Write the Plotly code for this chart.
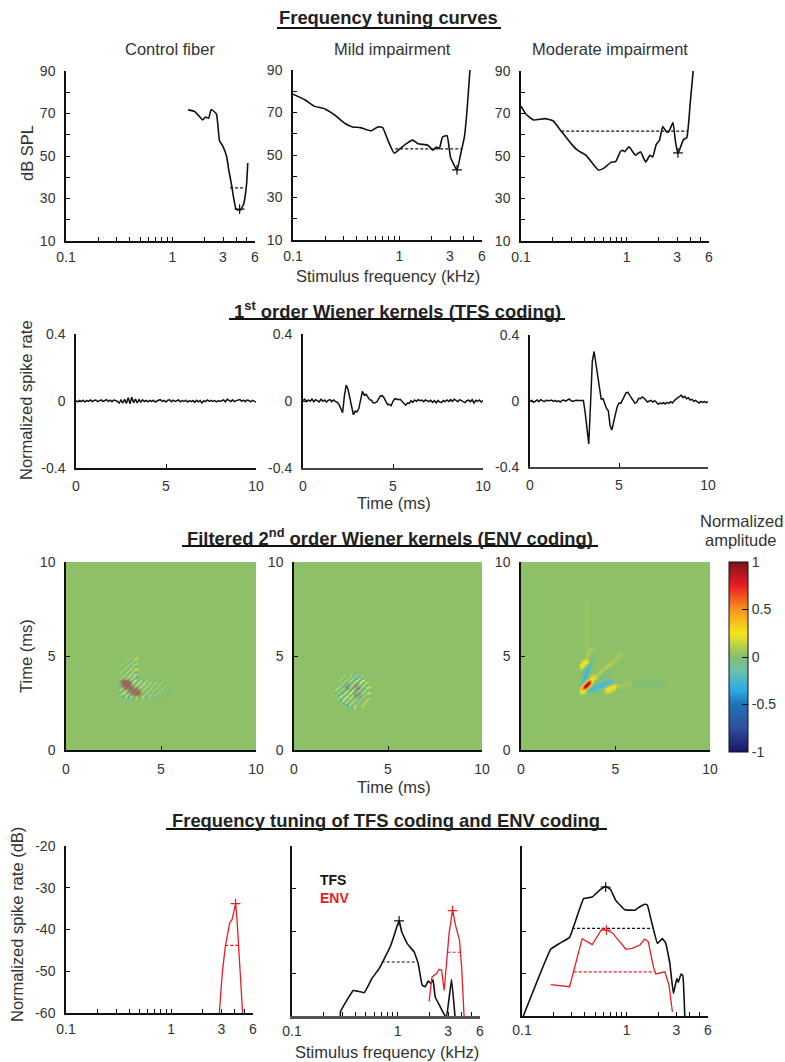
import numpy as np
import plotly.graph_objects as go

W, H = 785, 1062
FONT = "Liberation Sans"
INK = "#111111"
TXT = "#333333"
RED = "#ED1C24"
LABEL = 16.5
TITLE = 18.4
TICK = 14

# ---------- Frequency tuning curves ----------
ftc1_f = [1.41,1.63,1.77,1.93,2.05,2.2,2.32,2.6,2.78,2.97,3.23,3.41,3.6,3.98,4.35,4.69,5.0,5.13]
ftc1_db = [71.7,70.9,69,67,68.3,67.8,71.9,69.8,57.2,54.9,50.2,43,36.8,25,24.5,27.3,36.8,46.7]
ftc1_q_f, ftc1_q_db = [3.5,4.75], [35,35]
ftc1_cf = ([4.3],[25])

ftc2_f = [0.1,0.129,0.158,0.2,0.249,0.309,0.364,0.429,0.544,0.627,0.698,0.78,0.897,1.02,1.14,1.34,1.5,1.86,2.07,2.23,2.38,2.55,2.81,3.03,3.2,3.49,3.76,4.1,4.29,4.48,4.62]
ftc2_db = [78.6,76,73,71.7,68.7,64.8,63.2,62.9,61.4,63.2,62.9,57,50.9,53,55,57,55.3,54.6,52.3,53.8,53,58.5,59.2,49,46.3,42.8,49.9,58.5,68,80.5,90]
ftc2_q_f, ftc2_q_db = [0.916,3.85], [52.9,52.9]
ftc2_cf = ([3.49],[43])

ftc3_f = [0.1,0.111,0.131,0.168,0.201,0.24,0.299,0.345,0.413,0.542,0.613,0.708,0.789,0.866,0.91,0.957,1.05,1.21,1.35,1.51,1.66,1.76,1.9,2.04,2.19,2.36,2.49,2.74,2.88,3.05,3.44,3.7,3.98,4.25]
ftc3_db = [73.4,69.8,67,67.6,66.6,61.7,55.7,52.6,50.3,43.3,44.4,47,47.5,51.9,52.7,52,54.3,50.4,52,47.2,50.3,49.5,55.4,57.3,63.9,61.5,61.3,65.8,57.3,51.1,57.7,58.6,74.5,90]
ftc3_q_f, ftc3_q_db = [0.24,3.79], [61.7,61.7]
ftc3_cf = ([3.05],[51.5])

# ---------- 1st order Wiener kernels (0.1 ms steps) ----------
kern_t = [i/10 for i in range(101)]
kern1 = [.002,-.005,.004,-.003,.005,-.006,.003,-.002,.006,-.004,
 .003,.006,-.004,.002,.007,-.003,.004,.008,-.002,.005,
 -.004,.006,.003,-.002,-.012,.006,-.012,.01,-.014,.02,
 -.016,.022,-.01,.012,-.012,.008,-.006,.007,-.003,.004,
 -.005,.004,-.003,.005,-.006,.002,.006,.007,-.002,.004,
 -.006,.005,.007,-.004,.005,-.003,.003,.006,-.005,.002,
 -.003,.005,-.006,.002,-.004,.003,-.008,.004,-.005,.003,
 -.012,.002,-.004,.006,-.002,.004,-.003,.002,-.005,.003,
 -.002,.004,.006,-.005,.01,.004,-.003,.007,-.004,.002,
 .004,.009,-.002,.005,-.004,.006,.003,-.005,.004,-.003,-.006]
kern2 = [.004,.01,-.004,.006,-.002,.012,-.005,.008,.002,-.006,
 .01,-.002,.006,-.006,.004,.008,-.004,.006,-.002,-.008,
 -.02,-.045,-.07,.03,.095,.07,.02,-.04,-.082,-.06,
 -.065,-.045,.01,.058,.035,.04,.025,.008,.005,-.012,
 -.01,-.006,.012,.03,.032,.02,-.002,-.022,-.02,-.028,
 -.002,.014,.012,.008,.01,0,-.012,-.025,-.012,-.014,
 .002,-.008,.006,-.002,.008,.002,.006,-.004,.006,.002,
 -.004,.004,-.008,.002,-.012,.004,-.006,-.008,.003,-.004,
 .006,-.003,.008,-.002,.01,.004,-.004,.008,.003,-.006,
 -.01,.002,.005,-.004,.008,-.012,.004,-.002,.006,-.006,.003]
kern3 = [-.002,.003,-.008,.002,.006,-.004,.008,.002,-.004,.005,
 .004,.002,.006,-.002,.004,-.004,.001,-.006,.004,.006,
 -.001,.008,.012,.003,-.002,.002,.005,.003,.002,.004,
 .003,-.07,-.18,-.26,-.02,.24,.30,.22,.145,.07,
 .012,.014,-.02,-.045,-.06,-.15,-.175,-.12,-.08,-.035,
 -.012,-.014,.005,.03,.05,.052,.03,.018,.002,-.014,
 -.008,.016,.014,.024,.018,.002,-.006,0,.004,-.006,
 .002,-.008,-.02,-.012,-.016,-.01,-.018,-.008,-.014,-.004,
 -.012,.002,.014,.02,.026,.036,.02,.028,.014,.02,
 .006,.01,-.002,.004,-.006,-.012,-.002,-.008,-.004,-.01,-.004]

# ---------- Filtered 2nd order kernels: sparse features in ms ----------
wk_base = 0.02
w1_off = [-1.8,-1.65,-1.5,-1.35,-1.2,-1.05,-.9,-.75,-.6,-.45,-.3,-.15,0,.15,.3,.45,.6,.75,.9,1.05,1.2,1.35,1.5,1.65,1.8,1.95,2.1,2.25]
w1_mid = [4.15,4.1,4.0,3.95,3.9,3.8,3.75,3.65,3.6,3.5,3.45,3.4,3.35,3.35,3.4,3.45,3.5,3.55,3.65,3.75,3.8,3.9,3.95,4.0,4.05,4.1,4.15,4.2]
w1_half = [.2,.25,.3,.35,.4,.4,.42,.42,.42,.42,.42,.42,.42,.42,.42,.42,.42,.42,.42,.42,.4,.4,.35,.35,.3,.3,.25,.2]
w1_amp = [.05,-.06,.09,-.1,.13,-.15,.17,-.17,.2,-.2,.26,-.3,.32,-.32,.3,-.28,.24,-.18,.18,-.16,.16,-.14,.13,-.1,.09,-.06,.05,-.04]
w1_blob = [(3.05,3.62,3.25,3.42,.9),(3.45,3.2,3.75,3.05,.8)]
w2_off = [-1.2,-1.05,-.9,-.75,-.6,-.45,-.3,-.15,0,.15,.3,.45,.6,.75,.9,1.05,1.2]
w2_mid = [3.15]*17
w2_half = [.22,.3,.38,.45,.5,.55,.55,.55,.55,.55,.55,.55,.5,.45,.38,.3,.22]
w2_amp = [.09,-.12,.16,-.19,.24,-.32,.32,-.38,.38,-.38,.32,-.32,.24,-.19,.16,-.12,.09]
w2_blob = [(2.78,3.4,2.86,3.34,.4),(3.28,3.4,3.38,3.32,.45),(3.28,2.98,3.38,2.9,.4)]
w3_strokes = [
 (3.5,5.0,3.5,8.0,.05,1),(4.0,3.9,5.25,5.14,.07,1),(3.76,3.72,4.73,4.61,.11,1),
 (3.85,3.55,4.6,4.2,-.07,1),(5.0,3.5,7.5,3.55,-.05,1),(4.9,3.4,5.8,3.54,.08,1),
 (3.46,4.75,3.7,5.4,.09,1),(3.62,4.6,3.8,5.1,-.07,1),
 (3.58,3.19,4.73,3.63,-.24,2),(3.28,3.54,3.58,4.52,-.24,2),
 (3.2,4.45,3.44,4.72,.24,2),(4.55,3.22,4.9,3.4,.22,2),
 (3.2,3.12,3.85,3.9,.18,2),(3.25,3.22,3.72,3.74,.38,1),(3.36,3.34,3.6,3.58,.95,1),
]
colour_stops = [(-1,"#1B1464"),(-.75,"#2E4F9E"),(-.5,"#2072B8"),(-.35,"#29ABE2"),(-.15,"#6BC0B0"),
                (0,"#85BE6E"),(.25,"#F5E51B"),(.5,"#F7941D"),(.75,"#ED1C24"),(1,"#7A1416")]

# ---------- Frequency tuning of TFS / ENV ----------
t1_env_f = [2.87,3.06,3.27,3.45,3.6,3.8,3.93,4.1,4.24,4.48,4.78]
t1_env_v = [-60,-50.5,-44.1,-40.5,-38.5,-37.6,-35.7,-33.8,-38.1,-47.3,-60]
t1_env_q = ([3.27,4.33],[-43.8,-43.8])
t1_env_cf = ([4.1],[-33.8])

t2_tfs_f = [.287,.287,.38,.483,.569,.669,.849,.926,1.03,1.09,1.24,1.43,1.56,1.7,1.82,1.94,2.07,2.16,2.26,2.52,2.81,2.9,3.23,3.48]
t2_tfs_v = [-60,-59,-54,-54.5,-51.2,-48.8,-43.7,-41,-37.5,-40.2,-43.1,-44.9,-47.6,-52.7,-53.1,-51.8,-52.3,-51.5,-55.5,-57.8,-60,-60,-51.4,-60]
t2_tfs_q = ([.706,1.51],[-47.3,-47.3])
t2_tfs_cf = ([1.03],[-37.6])
t2_env_f = [1.98,2.11,2.33,2.46,2.6,2.75,2.93,3.06,3.3,3.52,3.84,4.02,4.24]
t2_env_v = [-56.6,-50.8,-50,-49,-49.2,-54,-46,-40.6,-35,-38.6,-42.2,-48.4,-60]
t2_env_q = ([2.97,3.88],[-45,-45])
t2_env_cf = ([3.3],[-35.2])

t3_tfs_f = [.103,.188,.229,.285,.388,.469,.553,.631,.705,.787,.962,1.2,1.34,1.49,1.58,1.72,1.97,2.2,2.37,2.59,2.8,3.02,3.12,3.31,3.45,3.6]
t3_tfs_v = [-60,-44.3,-42.9,-41.5,-32.4,-32,-30.4,-29.5,-30.3,-32.8,-35,-35.1,-34.3,-33.7,-33.9,-37.5,-42.9,-41.8,-42.9,-47.6,-54.7,-51.2,-52.1,-50.1,-50.5,-60]
t3_tfs_q = ([.301,1.76],[-39.4,-39.4])
t3_tfs_cf = ([.631],[-29.7])
t3_env_f = [.188,.285,.376,.469,.585,.728,.859,.982,1.13,1.34,1.49,1.61,1.8,1.9,2.32,2.54,2.74]
t3_env_v = [-52.6,-53.1,-41.8,-43.2,-39.4,-40.4,-42.5,-44.3,-44.1,-43.3,-41.9,-42.5,-48.4,-50.1,-49.6,-52.7,-59]
t3_env_q = ([.312,1.86],[-49.6,-49.6])
t3_env_cf = ([.64],[-39.8])

freq_ticks = [.1,.2,.3,.4,.5,.6,.7,.8,.9,1,2,3,4,5,6]
freq_labels = ["0.1","","","","","","","","","1","","3","","","6"]
spl_ticks = [10,20,30,40,50,60,70,80,90]
spl_labels = ["10","","30","","50","","70","","90"]
db_ticks = [-60,-50,-40,-30,-20]
db_labels = ["-60","-50","-40","-30","-20"]

# ---------- helpers ----------
fig = go.Figure()
layout = {}
n = [0]

def panel(px0, px1, py0, py1, xopt, yopt, line_w=1.5, xcol=INK, xstand=2):
    n[0] += 1
    i = n[0]
    common = dict(showline=True, linecolor=INK, linewidth=line_w, showgrid=False, zeroline=False,
                  ticks="inside", ticklen=4, tickcolor=INK, tickwidth=1.2, mirror=False,
                  tickfont=dict(family=FONT, size=TICK, color=TXT), ticklabelstandoff=6)
    layout[f"xaxis{i}"] = {**common, "domain":[px0/W, px1/W], "anchor":f"y{i}", **xopt}
    layout[f"xaxis{i}"]["linecolor"] = xcol
    layout[f"xaxis{i}"]["ticklabelstandoff"] = xstand
    layout[f"yaxis{i}"] = {**common, "domain":[1-py1/H, 1-py0/H], "anchor":f"x{i}", **yopt}
    return f"x{i}", f"y{i}"

def curve(ax, x, y, color=INK, width=1.6, dash=None, smooth=None):
    line = dict(color=color, width=width, dash=dash)
    if smooth:
        line.update(shape="spline", smoothing=smooth)
    fig.add_trace(go.Scatter(x=x, y=y, mode="lines", xaxis=ax[0], yaxis=ax[1],
                             line=line, showlegend=False, cliponaxis=False))

def cf(ax, pt, color=INK):
    fig.add_trace(go.Scatter(x=pt[0], y=pt[1], mode="markers", xaxis=ax[0], yaxis=ax[1], cliponaxis=False,
                             marker=dict(symbol="cross-thin", size=7, line=dict(color=color, width=1.2)), showlegend=False))

def text(x, y, s, size=LABEL, bold=False, color=TXT, angle=0, anchor="center"):
    fig.add_annotation(xref="paper", yref="paper", x=x/W, y=1-y/H, text=f"<b>{s}</b>" if bold else s,
                       showarrow=False, textangle=angle, xanchor=anchor, yanchor="middle",
                       font=dict(family=FONT, size=size, color=color))

def rule(x0, x1, y):
    fig.add_shape(type="line", xref="paper", yref="paper", x0=x0/W, x1=x1/W, y0=1-y/H, y1=1-y/H,
                  line=dict(color="#111111", width=2))

flog = dict(type="log", range=[-1, np.log10(6)], tickmode="array", tickvals=freq_ticks, ticktext=freq_labels)
fspl = dict(range=[10,90], tickmode="array", tickvals=spl_ticks, ticktext=spl_labels)
fdb = dict(range=[-60,-20], tickmode="array", tickvals=db_ticks, ticktext=db_labels)
fdb0 = dict(range=[-60,-20], tickmode="array", tickvals=db_ticks, ticktext=[""]*5)
fker = dict(range=[-.4,.4], tickmode="array", tickvals=[-.4,0,.4], ticktext=["-0.4","0","0.4"])
ftm = dict(range=[0,10], tickmode="array", tickvals=[0,5,10], ticktext=["0","5","10"])

# row 1
a = panel(66,255,71,241,flog,fspl)
curve(a,ftc1_f,ftc1_db,smooth=.4); curve(a,ftc1_q_f,ftc1_q_db,dash="3px,2px",width=1.2); cf(a,ftc1_cf)
a = panel(293,482,70,240,flog,fspl)
curve(a,ftc2_f,ftc2_db,smooth=.4); curve(a,ftc2_q_f,ftc2_q_db,dash="3px,2px",width=1.2); cf(a,ftc2_cf)
a = panel(521,709,71,241,flog,fspl)
curve(a,ftc3_f,ftc3_db,smooth=.4); curve(a,ftc3_q_f,ftc3_q_db,dash="3px,2px",width=1.2); cf(a,ftc3_cf)

# row 2
a = panel(76,256,334,468,ftm,fker,xstand=4); curve(a,kern_t,kern1,width=1.5)
a = panel(303,483,334,468,ftm,fker,line_w=2,xcol="#444444",xstand=4); curve(a,kern_t,kern2,width=1.5)
a = panel(530,708,335,467,ftm,fker,line_w=2,xcol="#444444",xstand=4); curve(a,kern_t,kern3,width=1.5)

# row 3
STEP = 0.05
grid = [i*STEP for i in range(201)]

def paint(z, x0, y0, x1, y1, v, hw):
    m = int(max(abs(x1-x0), abs(y1-y0))/STEP*2)+1
    for k in range(m+1):
        u = k/m
        ix = int(round((x0+(x1-x0)*u)/STEP)); iy = int(round((y0+(y1-y0)*u)/STEP))
        z[max(iy-hw,0):iy+hw+1, max(ix-hw,0):ix+hw+1] = v

def soften(z, passes=1):
    for _ in range(passes):
        p = np.pad(z, 1, mode="edge")
        z = sum(p[1+dy:p.shape[0]-1+dy, 1+dx:p.shape[1]-1+dx] for dy in (-1,0,1) for dx in (-1,0,1))/9
    return z

def fringes(off, mid, half, amp):
    z = np.full((201,201), wk_base)
    for d,s,h,v in zip(off,mid,half,amp):
        paint(z, s+d/2-h, s-d/2-h, s+d/2+h, s-d/2+h, v*1.25, 1)
    return soften(z)

def blobs(items, r=3):
    z = np.zeros((201,201))
    for x0,y0,x1,y1,v in items:
        paint(z,x0,y0,x1,y1,v,r)
    return soften(z,3)

def kernel_panel(px0, px1, z, overlay=None, over_rgb="150,85,85"):
    a = panel(px0,px1,562,750,ftm,ftm,xstand=5)
    fig.add_trace(go.Heatmap(x=grid,y=grid,z=z,coloraxis="coloraxis",zsmooth="best",xaxis=a[0],yaxis=a[1]))
    if overlay is not None:
        fig.add_trace(go.Heatmap(x=grid,y=grid,z=overlay,zmin=0,zmax=1,showscale=False,zsmooth="best",xaxis=a[0],yaxis=a[1],
                                 colorscale=[[0,f"rgba({over_rgb},0)"],[1,f"rgba({over_rgb},0.95)"]]))

kernel_panel(66,256,fringes(w1_off,w1_mid,w1_half,w1_amp),blobs(w1_blob))
kernel_panel(294,482,fringes(w2_off,w2_mid,w2_half,w2_amp),blobs(w2_blob,2),"110,95,110")
z3 = np.full((201,201), wk_base)
for s in w3_strokes:
    paint(z3,*s)
kernel_panel(521,710,soften(z3,2))

# row 4
a = panel(66,253,846,1013,flog,fdb)
curve(a,t1_env_f,t1_env_v,RED,1.3); curve(a,*t1_env_q,RED,1.2,"3px,2px"); cf(a,t1_env_cf,RED)
a = panel(292,480,846,1016,flog,fdb0,line_w=1.5,xcol="#555555",xstand=0)
layout[a[0].replace("x","xaxis")]["linewidth"] = 2.5
curve(a,t2_tfs_f,t2_tfs_v,smooth=.25); curve(a,*t2_tfs_q,INK,1.2,"3px,2px"); cf(a,t2_tfs_cf)
curve(a,t2_env_f,t2_env_v,RED,1.3); curve(a,*t2_env_q,RED,1.2,"3px,2px"); cf(a,t2_env_cf,RED)
a = panel(522,708,846,1016,flog,fdb0,xstand=0)
curve(a,t3_tfs_f,t3_tfs_v,smooth=.25); curve(a,*t3_tfs_q,INK,1.2,"3px,2px"); cf(a,t3_tfs_cf)
curve(a,t3_env_f,t3_env_v,RED,1.3); curve(a,*t3_env_q,RED,1.2,"3px,2px"); cf(a,t3_env_cf,RED)

# text
text(388,18,"Frequency tuning curves",TITLE,True,"#222222"); rule(277,501,28)
text(170,49,"Control fiber"); text(392,49,"Mild impairment"); text(610,49,"Moderate impairment")
text(27,153,"dB SPL",angle=-90)
text(388,276,"Stimulus frequency (kHz)")
text(397,310,"1<sup>st</sup> order Wiener kernels (TFS coding)",TITLE,True,"#222222"); rule(229,565,319)
text(26,400,"Normalized spike rate",angle=-90)
text(394,503,"Time (ms)")
text(390,537,"Filtered 2<sup>nd</sup> order Wiener kernels (ENV coding)",TITLE,True,"#222222"); rule(182,598,546)
text(741,521,"Normalized"); text(741,540,"amplitude")
text(26,656,"Time (ms)",angle=-90)
text(394,787,"Time (ms)")
text(386,820,"Frequency tuning of TFS coding and ENV coding",TITLE,True,"#222222"); rule(166,607,829)
text(17,925,"Normalized spike rate (dB)",angle=-90)
text(387,1052,"Stimulus frequency (kHz)")
text(318,880,"TFS",14,True,"#111111",anchor="left"); text(318,898,"ENV",14,True,RED,anchor="left")

fig.update_layout(**layout, width=W, height=H, margin=dict(l=0,r=0,t=0,b=0,pad=0,autoexpand=False), showlegend=False,
    paper_bgcolor="white", plot_bgcolor="white",
    coloraxis=dict(cmin=-1, cmax=1,
        colorscale=[[(v+1)/2,c] for v,c in colour_stops],
        colorbar=dict(x=729/W, xanchor="left", xpad=0, ypad=0, y=1-562/H, yanchor="top", lenmode="pixels", len=190,
                      thickness=19, outlinecolor=INK, outlinewidth=1, ticks="inside", ticklen=6, tickcolor=INK,
                      tickmode="array", tickvals=[-1,-.5,0,.5,1], ticktext=["-1","-0.5","0","0.5","1"],
                      tickfont=dict(family=FONT,size=TICK,color=TXT))))
fig.write_html("out.html", post_script="document.body.style.margin='0';", config=dict(displayModeBar=False))
